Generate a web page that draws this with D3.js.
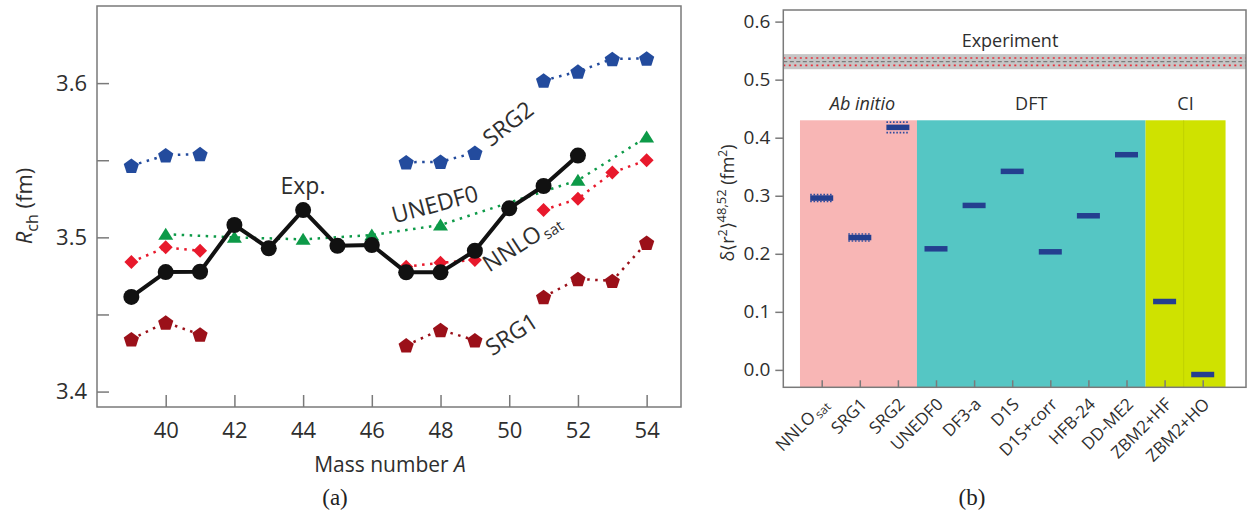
<!DOCTYPE html>
<html>
<head>
<meta charset="utf-8">
<script src="https://cdn.jsdelivr.net/npm/d3@7"></script>
<style>
  html, body { margin: 0; padding: 0; background: #fff; }
  svg { display: block; font-family: "Open Sans", "Noto Sans", sans-serif; }
</style>
</head>
<body>
<svg id="chart" width="1250" height="517"></svg>
<script>
// ---------- Panel (a): charge radii of calcium isotopes ----------
const massNumbers = [39, 40, 41, 42, 43, 44, 45, 46, 47, 48, 49, 50, 51, 52, 53, 54];
const massTicks = [40, 42, 44, 46, 48, 50, 52, 54];
const radiusTicks = [3.4, 3.45, 3.5, 3.55, 3.6];
const radiusLabelled = [3.4, 3.5, 3.6];

// experiment (solid black)
const expRadii  = [3.4614, 3.4775, 3.4777, 3.508, 3.4929, 3.5177, 3.4945, 3.495,
                   3.4773, 3.4773, 3.4913, 3.5188, 3.5333, 3.553, null, null];
// ab initio, null where no value was computed
const nnloRadii = [3.484, 3.4935, 3.4913, null, null, null, null, null,
                   3.481, 3.4835, 3.4853, null, 3.5177, 3.525, 3.542, 3.550];
const srg2Radii = [3.5465, 3.5532, 3.554, null, null, null, null, null,
                   3.5487, 3.549, 3.5549, null, 3.6017, 3.6075, 3.6157, 3.616];
const srg1Radii = [3.434, 3.4448, 3.437, null, null, null, null, null,
                   3.430, 3.440, 3.4333, null, 3.4614, 3.473, 3.4718, 3.4965];
// DFT (even isotopes only)
const unedfMass  = [40, 42, 44, 46, 48, 52, 54];
const unedfRadii = [3.502, 3.500, 3.4987, 3.5015, 3.508, 3.537, 3.565];

// ---------- Panel (b): differential radius 48,52 ----------
const methods = ["NNLOsat", "SRG1", "SRG2", "UNEDF0", "DF3-a", "D1S", "D1S+corr",
                 "HFB-24", "DD-ME2", "ZBM2+HF", "ZBM2+HO"];
const deltaR2   = [0.296, 0.228, 0.4178, 0.2086, 0.2833, 0.342, 0.2034, 0.2655, 0.3707, 0.1178, -0.008];
const deltaErr  = [0.006, 0.006, 0.009, 0, 0, 0, 0, 0, 0, 0, 0];
const groupNames = ["Ab initio", "DFT", "CI"];
const groupFirst = ["NNLOsat", "UNEDF0", "ZBM2+HF"];
const groupLast  = ["SRG2", "DD-ME2", "ZBM2+HO"];
const groupColors = ["#f8b6b5", "#55c6c4", "#cfe200"];
const deltaTicks = [0.0, 0.1, 0.2, 0.3, 0.4, 0.5, 0.6];
const expDelta = 0.531;      // experimental value
const expBandHalf = 0.013;   // grey band
const expErrHalf = 0.0064;   // red dotted bounds

const svg = d3.select("#chart");
const textColor = "#2e2e2e";
const frameColor = "#7a7a7a";

// ================= Panel (a) =================
const xA = d3.scaleLinear().domain([38, 55]).range([97, 681]);
const yA = d3.scaleLinear().domain([3.39, 3.65]).range([407, 6]);
const gA = svg.append("g");

gA.append("rect")
  .attr("x", xA.range()[0]).attr("y", yA.range()[1])
  .attr("width", xA.range()[1] - xA.range()[0])
  .attr("height", yA.range()[0] - yA.range()[1])
  .attr("fill", "none").attr("stroke", frameColor).attr("stroke-width", 1.5);

const axA_x = gA.append("g").attr("transform", `translate(0,${yA.range()[0]})`)
  .call(d3.axisBottom(xA).tickValues(massTicks).tickSize(-12).tickSizeOuter(0)
        .tickPadding(15).tickFormat(d3.format("d")));
const axA_y = gA.append("g").attr("transform", `translate(${xA.range()[0]},0)`)
  .call(d3.axisLeft(yA).tickValues(radiusTicks).tickSize(-12).tickSizeOuter(0)
        .tickPadding(10).tickFormat(d => radiusLabelled.includes(d) ? d3.format(".1f")(d) : ""));
[axA_x, axA_y].forEach(ax => {
  ax.select(".domain").remove();
  ax.selectAll(".tick line").attr("stroke", frameColor).attr("stroke-width", 1.5);
  ax.selectAll(".tick text").attr("fill", textColor).style("font-size", "22px")
    .style("font-family", "'Open Sans', sans-serif");
});

// axis titles
gA.append("text")
  .attr("x", 390).attr("y", 472).attr("text-anchor", "middle")
  .attr("fill", textColor).style("font-size", "21px")
  .call(t => { t.append("tspan").text("Mass number ");
               t.append("tspan").attr("font-style", "italic").text("A"); });
gA.append("text")
  .attr("transform", "translate(32,206) rotate(-90)").attr("text-anchor", "middle")
  .attr("fill", textColor).style("font-size", "22px")
  .call(t => { t.append("tspan").attr("font-style", "italic").text("R");
               t.append("tspan").attr("dy", 6).style("font-size", "16px").text("ch");
               t.append("tspan").attr("dy", -6).text(" (fm)"); });

// marker shapes
function pentagonPath(r) {
  const pts = d3.range(5).map(k => {
    const a = -Math.PI / 2 + k * 2 * Math.PI / 5;
    return [r * Math.cos(a), r * Math.sin(a) + r * 0.1];
  });
  return "M" + pts.map(p => p.join(",")).join("L") + "Z";
}
const diamondPath = "M0,-7L7,0L0,7L-7,0Z";
const trianglePath = "M0,-6.5L7.5,5.5L-7.5,5.5Z";

function dottedSeries(xs, ys, color, shape) {
  const pts = xs.map((x, i) => ({ x, y: ys[i] }));
  const line = d3.line().defined(d => d.y != null).x(d => xA(d.x)).y(d => yA(d.y));
  const g = gA.append("g");
  g.append("path").datum(pts).attr("d", line).attr("fill", "none")
    .attr("stroke", color).attr("stroke-width", 2.5).attr("stroke-dasharray", "2.5,5.5");
  g.selectAll("path.m").data(pts.filter(d => d.y != null)).join("path")
    .attr("class", "m").attr("d", shape)
    .attr("transform", d => `translate(${xA(d.x)},${yA(d.y)})`)
    .attr("fill", color);
}

dottedSeries(massNumbers, srg2Radii, "#234b9d", pentagonPath(8));
dottedSeries(massNumbers, srg1Radii, "#9b1019", pentagonPath(8));
dottedSeries(unedfMass, unedfRadii, "#0d9a48", trianglePath);
dottedSeries(massNumbers, nnloRadii, "#e8192c", diamondPath);

// experiment on top
{
  const pts = massNumbers.map((x, i) => ({ x, y: expRadii[i] })).filter(d => d.y != null);
  gA.append("path").datum(pts)
    .attr("d", d3.line().x(d => xA(d.x)).y(d => yA(d.y)))
    .attr("fill", "none").attr("stroke", "#111").attr("stroke-width", 4)
    .attr("stroke-linejoin", "round");
  gA.selectAll("circle.exp").data(pts).join("circle").attr("class", "exp")
    .attr("cx", d => xA(d.x)).attr("cy", d => yA(d.y)).attr("r", 8).attr("fill", "#111");
}

// series labels
const seriesLabels = [
  { text: "Exp.", x: 303, y: 194, rot: 0 },
  { text: "UNEDF0", x: 437, y: 212, rot: -15 },
  { text: "SRG2", x: 513, y: 130, rot: -38 },
  { text: "SRG1", x: 516, y: 341, rot: -33 }
];
seriesLabels.forEach(l => {
  gA.append("text").attr("transform", `translate(${l.x},${l.y}) rotate(${l.rot})`)
    .attr("text-anchor", "middle").attr("fill", textColor)
    .style("font-size", "23px").text(l.text);
});
gA.append("text").attr("transform", "translate(526,249) rotate(-33)")
  .attr("text-anchor", "middle").attr("fill", textColor).style("font-size", "23px")
  .call(t => { t.append("tspan").text("NNLO");
               t.append("tspan").attr("dx", 2).attr("dy", 4).style("font-size", "15px").text("sat"); });

svg.append("text").attr("x", 335).attr("y", 505).attr("text-anchor", "middle")
  .attr("fill", "#222").style("font-family", "'Liberation Serif', 'DejaVu Serif', serif")
  .style("font-size", "23px").text("(a)");

// ================= Panel (b) =================
const xB = d3.scalePoint().domain(methods).range([821.7, 1202.7]);
const stepB = xB.step();
const yB = d3.scaleLinear().domain([-0.03, 0.62]).range([387.3, 10]);
const frameB = { x0: 783.3, x1: 1246 };
const gB = svg.append("g");

// method groups as shaded columns
const groupTop = yB(0.43);
groupNames.forEach((name, i) => {
  const left = i === 0 ? xB(groupFirst[i]) - 0.57 * stepB
                       : (xB(groupLast[i - 1]) + xB(groupFirst[i])) / 2;
  const right = i === groupNames.length - 1 ? xB(groupLast[i]) + 0.6 * stepB
                       : (xB(groupLast[i]) + xB(groupFirst[i + 1])) / 2;
  gB.append("rect").attr("x", left).attr("y", groupTop)
    .attr("width", right - left).attr("height", yB.range()[0] - groupTop)
    .attr("fill", groupColors[i]);
  gB.append("text").attr("x", (left + right) / 2 + (i === 0 ? 4 : 0)).attr("y", groupTop - 10)
    .attr("text-anchor", "middle").attr("fill", textColor).style("font-size", "18px")
    .attr("font-style", i === 0 ? "italic" : "normal").text(name);
});
// faint divider between the two CI variants
gB.append("line")
  .attr("x1", (xB("ZBM2+HF") + xB("ZBM2+HO")) / 2).attr("x2", (xB("ZBM2+HF") + xB("ZBM2+HO")) / 2)
  .attr("y1", groupTop).attr("y2", yB.range()[0])
  .attr("stroke", "#b9c800").attr("stroke-width", 1).attr("opacity", 0.6);

// experimental band
gB.append("rect").attr("x", frameB.x0).attr("width", frameB.x1 - frameB.x0)
  .attr("y", yB(expDelta + expBandHalf))
  .attr("height", yB(expDelta - expBandHalf) - yB(expDelta + expBandHalf))
  .attr("fill", "#c6c6c6");
[expDelta + expErrHalf, expDelta - expErrHalf].forEach(v => {
  gB.append("line").attr("x1", frameB.x0).attr("x2", frameB.x1)
    .attr("y1", yB(v)).attr("y2", yB(v))
    .attr("stroke", "#e8303c").attr("stroke-width", 1.6).attr("stroke-dasharray", "2,3.5");
});
gB.append("line").attr("x1", frameB.x0).attr("x2", frameB.x1)
  .attr("y1", yB(expDelta)).attr("y2", yB(expDelta))
  .attr("stroke", "#7b7b7b").attr("stroke-width", 1.4).attr("stroke-dasharray", "4,2.5");
gB.append("text").attr("x", 1010).attr("y", 47).attr("text-anchor", "middle")
  .attr("fill", textColor).style("font-size", "18px").text("Experiment");

// frame
gB.append("rect").attr("x", frameB.x0).attr("y", yB.range()[1])
  .attr("width", frameB.x1 - frameB.x0).attr("height", yB.range()[0] - yB.range()[1])
  .attr("fill", "none").attr("stroke", frameColor).attr("stroke-width", 1.5);

// values
const barW = 23, barH = 5.5;
const pts = methods.map((m, i) => ({ m, v: deltaR2[i], e: deltaErr[i] }));
gB.selectAll("rect.val").data(pts).join("rect").attr("class", "val")
  .attr("x", d => xB(d.m) - barW / 2).attr("y", d => yB(d.v) - barH / 2)
  .attr("width", barW).attr("height", barH).attr("fill", "#243f8f");
pts.filter(d => d.e > 0).forEach(d => {
  [d.v + d.e, d.v - d.e].forEach(v => {
    gB.append("line").attr("x1", xB(d.m) - barW / 2).attr("x2", xB(d.m) + barW / 2)
      .attr("y1", yB(v)).attr("y2", yB(v))
      .attr("stroke", "#2f4c9e").attr("stroke-width", 1.6).attr("stroke-dasharray", "1.6,1.7");
  });
});

// axes
const axB_y = gB.append("g").attr("transform", `translate(${frameB.x0},0)`)
  .call(d3.axisLeft(yB).tickValues(deltaTicks).tickSize(8).tickSizeOuter(0)
        .tickPadding(5).tickFormat(d3.format(".1f")));
const axB_x = gB.append("g").attr("transform", `translate(0,${yB.range()[0]})`)
  .call(d3.axisBottom(xB).tickSize(-7).tickSizeOuter(0).tickFormat(""));
[axB_x, axB_y].forEach(ax => {
  ax.select(".domain").remove();
  ax.selectAll(".tick line").attr("stroke", frameColor).attr("stroke-width", 1.5);
  ax.selectAll(".tick text").attr("fill", textColor).style("font-size", "19px")
    .style("font-family", "'Open Sans', sans-serif");
});

// rotated method names
methods.forEach(m => {
  const t = gB.append("text")
    .attr("transform", `translate(${xB(m) + 8},${yB.range()[0] + 18}) rotate(-45)`)
    .attr("text-anchor", "end").attr("fill", textColor).style("font-size", "17px");
  if (m === "NNLOsat") {
    t.append("tspan").text("NNLO");
    t.append("tspan").attr("dx", 2).attr("dy", 3).style("font-size", "12px").text("sat");
  } else {
    t.text(m);
  }
});

// y title
gB.append("text").attr("transform", "translate(734,203) rotate(-90)")
  .attr("text-anchor", "middle").attr("fill", textColor).style("font-size", "18px")
  .call(t => {
    t.append("tspan").text("δ⟨r");
    t.append("tspan").attr("dy", -7).style("font-size", "12px").text("2");
    t.append("tspan").attr("dy", 7).text("⟩");
    t.append("tspan").attr("dy", -8).style("font-size", "13px").text("48,52");
    t.append("tspan").attr("dy", 8).text(" (fm");
    t.append("tspan").attr("dy", -7).style("font-size", "12px").text("2");
    t.append("tspan").attr("dy", 7).text(")");
  });

svg.append("text").attr("x", 972).attr("y", 505).attr("text-anchor", "middle")
  .attr("fill", "#222").style("font-family", "'Liberation Serif', 'DejaVu Serif', serif")
  .style("font-size", "23px").text("(b)");
</script>
</body>
</html>
